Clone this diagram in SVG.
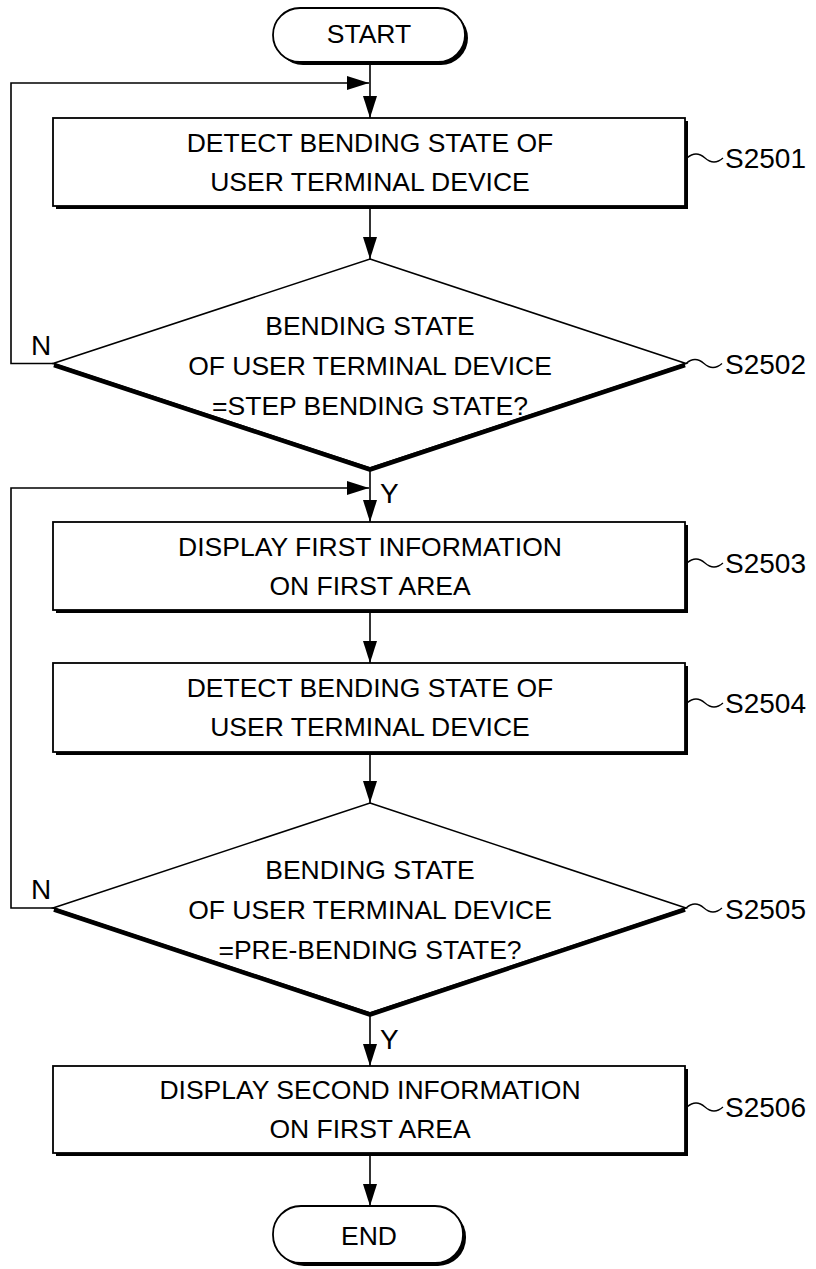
<svg xmlns="http://www.w3.org/2000/svg" width="816" height="1269" viewBox="0 0 816 1269">
<style>
.box{fill:#fff;stroke:#000;stroke-width:1.8}
.sh{fill:#000}
.dia{fill:#fff;stroke:#000;stroke-width:1.6;stroke-linejoin:miter}
.thick{fill:none;stroke:#000;stroke-width:4.5;stroke-linejoin:round}
.ln{fill:none;stroke:#000;stroke-width:1.6}
.t{font-family:"Liberation Sans",Arial,sans-serif;font-size:26.5px;text-anchor:middle;fill:#000}
.lbl{font-family:"Liberation Sans",Arial,sans-serif;font-size:28px;fill:#000}
.yn{font-family:"Liberation Sans",Arial,sans-serif;font-size:28px;fill:#000}
.tl{fill:none;stroke:#000;stroke-width:1.3}
</style>
<defs>
<marker id="ah" viewBox="0 0 22 14" refX="22" refY="7" markerWidth="22" markerHeight="14" markerUnits="userSpaceOnUse" orient="auto"><path d="M0,0 L22,7 L0,14 z" fill="#000"/></marker>
</defs>

<g id="connectors">
<line class="ln" x1="370" y1="61" x2="370" y2="118" marker-end="url(#ah)"/>
<polyline class="ln" points="53,363.5 11,363.5 11,83 369,83" marker-end="url(#ah)"/>
<line class="ln" x1="370" y1="208" x2="370" y2="259" marker-end="url(#ah)"/>
<line class="ln" x1="370" y1="468" x2="370" y2="522" marker-end="url(#ah)"/>
<polyline class="ln" points="53,908 11,908 11,488 369,488" marker-end="url(#ah)"/>
<line class="ln" x1="370" y1="612" x2="370" y2="663" marker-end="url(#ah)"/>
<line class="ln" x1="370" y1="754" x2="370" y2="803" marker-end="url(#ah)"/>
<line class="ln" x1="370" y1="1013" x2="370" y2="1066" marker-end="url(#ah)"/>
<line class="ln" x1="370" y1="1155" x2="370" y2="1206" marker-end="url(#ah)"/>
<text class="yn" x="31" y="355">N</text>
<text class="yn" x="380" y="503">Y</text>
<text class="yn" x="31" y="899">N</text>
<text class="yn" x="380" y="1049">Y</text>
</g>

<g id="start">
<rect class="sh" x="276" y="11" width="192" height="54" rx="27"/>
<rect class="box" x="273" y="8" width="192" height="54" rx="27"/>
<text class="t" x="369" y="43">START</text>
</g>

<g id="s2501">
<rect class="sh" x="56" y="121" width="632" height="88"/>
<rect class="box" x="53" y="118" width="632" height="88"/>
<text class="t" x="370" y="152">DETECT BENDING STATE OF</text>
<text class="t" x="370" y="191">USER TERMINAL DEVICE</text>
<path class="tl" d="M687,158 q9,-8 18,0 t18,0"/>
<text class="lbl" x="725" y="168">S2501</text>
</g>

<g id="s2502">
<polygon class="dia" points="370,259 686,363.5 370,468 53,363.5"/>
<polyline class="thick" points="54,365 370,469.5 685,365"/>
<text class="t" x="370" y="335">BENDING STATE</text>
<text class="t" x="370" y="375">OF USER TERMINAL DEVICE</text>
<text class="t" x="370" y="415">=STEP BENDING STATE?</text>
<path class="tl" d="M686,363.5 q9,-8 18,0 t18,0"/>
<text class="lbl" x="725" y="374">S2502</text>
</g>

<g id="s2503">
<rect class="sh" x="56" y="525" width="632" height="88"/>
<rect class="box" x="53" y="522" width="632" height="88"/>
<text class="t" x="370" y="556">DISPLAY FIRST INFORMATION</text>
<text class="t" x="370" y="595">ON FIRST AREA</text>
<path class="tl" d="M687,563 q9,-8 18,0 t18,0"/>
<text class="lbl" x="725" y="573">S2503</text>
</g>

<g id="s2504">
<rect class="sh" x="56" y="666" width="632" height="89"/>
<rect class="box" x="53" y="663" width="632" height="89"/>
<text class="t" x="370" y="697">DETECT BENDING STATE OF</text>
<text class="t" x="370" y="736">USER TERMINAL DEVICE</text>
<path class="tl" d="M687,703 q9,-8 18,0 t18,0"/>
<text class="lbl" x="725" y="713">S2504</text>
</g>

<g id="s2505">
<polygon class="dia" points="370,803 686,908 370,1013 53,908"/>
<polyline class="thick" points="54,909.5 370,1014.5 685,909.5"/>
<text class="t" x="370" y="879">BENDING STATE</text>
<text class="t" x="370" y="919">OF USER TERMINAL DEVICE</text>
<text class="t" x="370" y="959">=PRE-BENDING STATE?</text>
<path class="tl" d="M686,908 q9,-8 18,0 t18,0"/>
<text class="lbl" x="725" y="919">S2505</text>
</g>

<g id="s2506">
<rect class="sh" x="56" y="1069" width="632" height="87"/>
<rect class="box" x="53" y="1066" width="632" height="87"/>
<text class="t" x="370" y="1099">DISPLAY SECOND INFORMATION</text>
<text class="t" x="370" y="1138">ON FIRST AREA</text>
<path class="tl" d="M687,1107 q9,-8 18,0 t18,0"/>
<text class="lbl" x="725" y="1117">S2506</text>
</g>

<g id="end">
<rect class="sh" x="276" y="1209" width="190" height="57" rx="28"/>
<rect class="box" x="273" y="1206" width="190" height="57" rx="28"/>
<text class="t" x="369" y="1245">END</text>
</g>
</svg>
